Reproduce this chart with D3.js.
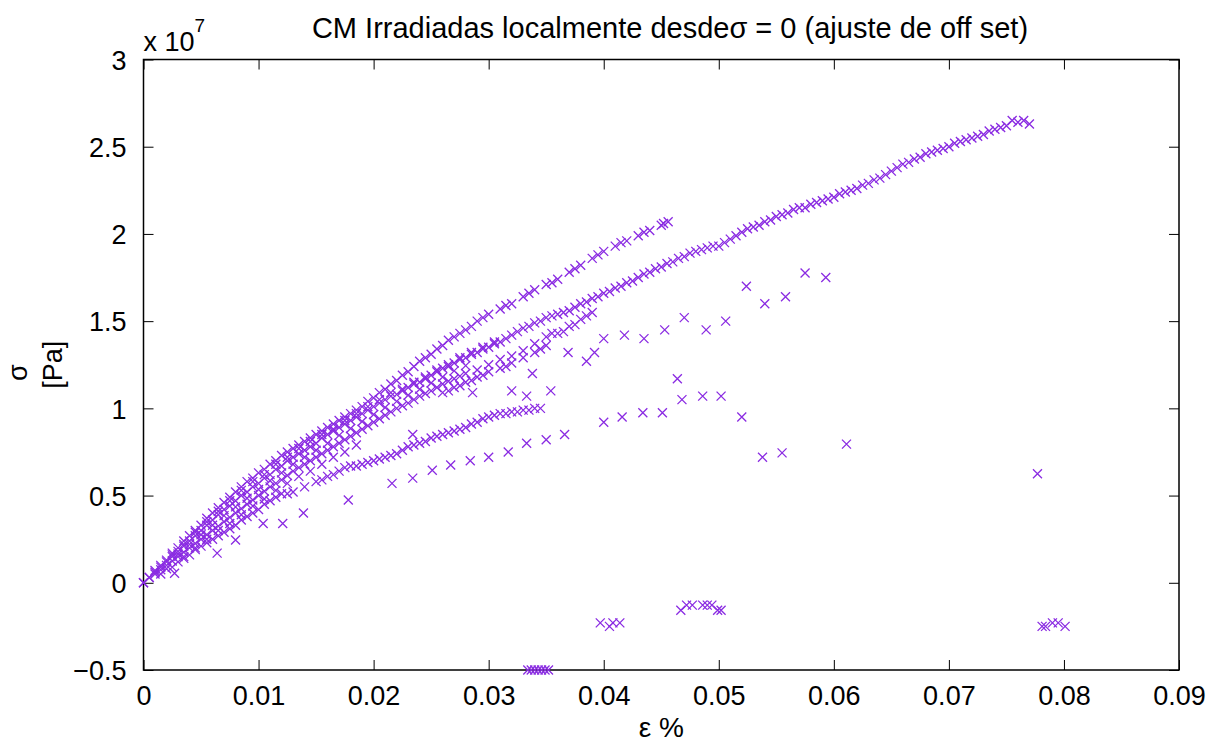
<!DOCTYPE html>
<html>
<head>
<meta charset="utf-8">
<script src="https://cdn.jsdelivr.net/npm/d3@7"></script>
<style>
  html, body { margin: 0; padding: 0; background: #fff; }
  svg { display: block; font-family: "Liberation Sans", Arial, Helvetica, sans-serif; }
</style>
</head>
<body>
<svg id="chart" width="1227" height="742"></svg>
<script>
// Strain ε in %, stress σ in units of 10^7 Pa (the axis multiplier).

// Upper loading branch, ends near ε = 0.0456 %
const branchUpper = [
  [0,0],[0.0005,0.03],[0.001,0.07],[0.0015,0.10],[0.002,0.13],[0.0025,0.17],[0.003,0.20],[0.0035,0.24],
  [0.004,0.27],[0.0045,0.30],[0.005,0.33],[0.0055,0.37],[0.006,0.40],[0.0065,0.43],[0.007,0.46],[0.0075,0.49],
  [0.008,0.52],[0.0085,0.55],[0.009,0.58],[0.0095,0.60],[0.010,0.63],[0.0105,0.65],[0.011,0.68],[0.0115,0.70],
  [0.012,0.73],[0.0125,0.75],[0.013,0.77],[0.0135,0.79],[0.014,0.81],[0.0145,0.83],[0.015,0.85],[0.0155,0.87],
  [0.016,0.89],[0.0165,0.91],[0.017,0.93],[0.0175,0.95],[0.018,0.97],[0.0185,0.99],[0.019,1.01],[0.0195,1.04],
  [0.020,1.06],[0.0205,1.09],[0.021,1.11],[0.0215,1.14],[0.022,1.16],[0.0225,1.19],[0.023,1.21],[0.0235,1.24],
  [0.024,1.27],[0.0245,1.29],[0.025,1.31],[0.0255,1.34],[0.026,1.36],[0.0265,1.39],[0.027,1.41],[0.0275,1.43],
  [0.028,1.45],[0.0285,1.47],[0.029,1.50],[0.0295,1.52],[0.030,1.54],[0.031,1.57],[0.0315,1.59],[0.032,1.60],
  [0.033,1.64],[0.0335,1.66],[0.034,1.68],[0.035,1.71],[0.0355,1.72],[0.036,1.74],[0.037,1.78],[0.0375,1.80],
  [0.038,1.82],[0.039,1.86],[0.0395,1.88],[0.040,1.90],[0.041,1.93],[0.0415,1.95],[0.042,1.96],[0.043,1.99],
  [0.0435,2.01],[0.044,2.02],[0.045,2.05],[0.0452,2.06],[0.0456,2.07]
];

// Main loading branch up to ε ≈ 0.05 %
const branchMain = [
  [0,0],[0.0005,0.03],[0.001,0.06],[0.0015,0.09],[0.002,0.12],[0.0025,0.15],[0.003,0.18],[0.0035,0.21],
  [0.004,0.24],[0.0045,0.27],[0.005,0.30],[0.0055,0.33],[0.006,0.36],[0.0065,0.39],[0.007,0.42],[0.0075,0.44],
  [0.008,0.47],[0.0085,0.50],[0.009,0.52],[0.0095,0.55],[0.010,0.57],[0.0105,0.60],[0.011,0.62],[0.0115,0.65],
  [0.012,0.67],[0.0125,0.70],[0.013,0.72],[0.0135,0.74],[0.014,0.76],[0.0145,0.78],[0.015,0.80],[0.0155,0.83],
  [0.016,0.85],[0.0165,0.87],[0.017,0.89],[0.0175,0.91],[0.018,0.93],[0.0185,0.95],[0.019,0.97],[0.0195,0.99],
  [0.020,1.01],[0.0205,1.03],[0.021,1.05],[0.0215,1.07],[0.022,1.08],[0.0225,1.10],[0.023,1.12],[0.0235,1.14],
  [0.024,1.15],[0.0245,1.17],[0.025,1.19],[0.0255,1.21],[0.026,1.23],[0.0265,1.24],[0.027,1.26],[0.0275,1.28],
  [0.028,1.29],[0.0285,1.31],[0.029,1.32],[0.0295,1.34],[0.030,1.35],[0.0305,1.37],[0.031,1.38],[0.0315,1.40],
  [0.032,1.42],[0.0325,1.44],[0.033,1.46],[0.0335,1.47],[0.034,1.49],[0.0345,1.50],[0.035,1.52],[0.0355,1.53],
  [0.036,1.54],[0.0365,1.55],[0.037,1.56],[0.0375,1.58],[0.038,1.60],[0.0385,1.61],[0.039,1.63],[0.0395,1.64],
  [0.040,1.66],[0.0405,1.67],[0.041,1.69],[0.0415,1.70],[0.042,1.72],[0.0425,1.73],[0.043,1.75],[0.0435,1.77],
  [0.044,1.78],[0.0445,1.80],[0.045,1.81],[0.0455,1.83],[0.046,1.84],[0.0465,1.86],[0.047,1.87],[0.0475,1.89],
  [0.048,1.90],[0.0485,1.91],[0.049,1.92],[0.0495,1.93],[0.050,1.93]
];

// Continued loading up to the maximum stress
const branchLong = [
  [0.0505,1.95],[0.051,1.97],[0.0515,1.99],[0.052,2.01],[0.0525,2.03],[0.053,2.04],[0.0535,2.05],[0.054,2.07],
  [0.0545,2.08],[0.055,2.10],[0.0555,2.11],[0.056,2.12],[0.0565,2.14],[0.057,2.15],[0.0575,2.15],[0.058,2.17],
  [0.0585,2.18],[0.059,2.19],[0.0595,2.20],[0.060,2.21],[0.0605,2.23],[0.061,2.24],[0.0615,2.25],[0.062,2.26],
  [0.0625,2.28],[0.063,2.29],[0.0635,2.31],[0.064,2.32],[0.0645,2.34],[0.065,2.36],[0.0655,2.38],[0.066,2.40],
  [0.0665,2.41],[0.067,2.43],[0.0675,2.44],[0.068,2.46],[0.0685,2.47],[0.069,2.48],[0.0695,2.49],[0.070,2.50],
  [0.0705,2.52],[0.071,2.53],[0.0715,2.54],[0.072,2.55],[0.0725,2.56],[0.073,2.57],[0.0735,2.59],[0.074,2.60],
  [0.0745,2.61],[0.075,2.62],[0.0755,2.65],[0.076,2.64],[0.0765,2.65],[0.077,2.63]
];

// Readings inside the dense band, above the main branch
const branchMidHigh = [
  [0.0025,0.16],[0.0035,0.22],[0.0045,0.29],[0.0055,0.35],[0.0065,0.41],[0.0075,0.47],[0.0085,0.53],
  [0.0095,0.58],[0.0105,0.62],[0.0115,0.68],[0.0125,0.72],[0.0135,0.77],[0.0145,0.81],[0.0155,0.85],
  [0.0165,0.88],[0.0175,0.93],[0.0185,0.97],[0.0195,1.01],[0.0205,1.05],[0.0215,1.09],[0.0225,1.11],
  [0.0235,1.15],[0.0245,1.18],[0.0255,1.22],[0.0265,1.25],[0.0275,1.29],[0.0285,1.32],[0.0295,1.35],
  [0.0305,1.38]
];

// Readings inside the dense band, below the main branch
const branchMidLow = [
  [0.003,0.165],[0.004,0.22],[0.005,0.275],[0.006,0.33],[0.007,0.385],[0.008,0.435],[0.009,0.485],
  [0.010,0.535],[0.011,0.585],[0.012,0.63],[0.013,0.68],[0.014,0.72],[0.015,0.76],[0.016,0.80],
  [0.017,0.845],[0.018,0.885],[0.019,0.925],[0.020,0.965],[0.021,1.005],[0.022,1.04],[0.023,1.075],
  [0.024,1.11],[0.025,1.145],[0.026,1.18],[0.027,1.215],[0.028,1.245]
];

// Lower edge of the main band
const branchLowerEdge = [
  [0.001,0.05],[0.0015,0.075],[0.002,0.10],[0.0025,0.125],[0.003,0.15],[0.0035,0.175],[0.004,0.20],[0.0045,0.225],
  [0.005,0.25],[0.0055,0.275],[0.006,0.30],[0.0065,0.325],[0.007,0.35],[0.0075,0.375],[0.008,0.40],[0.0085,0.425],
  [0.009,0.45],[0.0095,0.475],[0.010,0.50],[0.0105,0.525],[0.011,0.55],[0.0115,0.57],[0.012,0.59],[0.0125,0.615],
  [0.013,0.64],[0.0135,0.66],[0.014,0.68],[0.0145,0.70],[0.015,0.72],[0.0155,0.74],[0.016,0.76],[0.0165,0.78],
  [0.017,0.80],[0.0175,0.82],[0.018,0.84],[0.0185,0.86],[0.019,0.88],[0.0195,0.90],[0.020,0.92],[0.0205,0.94],
  [0.021,0.96],[0.0215,0.98],[0.022,1.00],[0.0225,1.015],[0.023,1.03],[0.0235,1.05],[0.024,1.07],[0.0245,1.085],
  [0.025,1.10],[0.0255,1.12],[0.026,1.14],[0.0265,1.155],[0.027,1.17],[0.0275,1.185],[0.028,1.20],[0.029,1.22],
  [0.030,1.25],[0.031,1.28],[0.032,1.30],[0.033,1.33],[0.034,1.37],[0.035,1.41],[0.0355,1.43],[0.036,1.43],
  [0.0365,1.44],[0.037,1.47],[0.0375,1.48],[0.038,1.51],[0.0385,1.53],[0.039,1.55]
];

// Readings between the lower edge and the lower band
const branchEdgeGap = [
  [0.0025,0.09],[0.0035,0.15],[0.0045,0.20],[0.0055,0.25],[0.0065,0.30],[0.0075,0.34],[0.0085,0.39],
  [0.0095,0.44],[0.0105,0.48],[0.0115,0.53],[0.0125,0.57],[0.0135,0.61],[0.0145,0.64],[0.0155,0.68],
  [0.0165,0.72],[0.0175,0.75],[0.0185,0.79]
];

// Sub-curve just below the main band
const branchSub = [
  [0.026,1.09],[0.0265,1.10],[0.027,1.12],[0.0275,1.13],[0.028,1.15],[0.0285,1.16],[0.029,1.18],[0.0295,1.19],
  [0.030,1.21],[0.031,1.23],[0.0315,1.24],[0.032,1.26],[0.033,1.29],[0.034,1.32],[0.0345,1.34],[0.035,1.36]
];

// Lowest early curve that turns into the lower band (σ ≈ 0.5–1.0)
const branchLowBand = [
  [0.0015,0.05],[0.002,0.08],[0.003,0.12],[0.0035,0.14],[0.004,0.16],[0.0045,0.19],[0.005,0.21],[0.0055,0.23],
  [0.006,0.25],[0.0065,0.27],[0.007,0.29],[0.0075,0.31],[0.008,0.33],[0.0085,0.36],[0.009,0.38],[0.0095,0.40],
  [0.010,0.42],[0.0105,0.45],[0.011,0.47],[0.0115,0.49],[0.012,0.51],[0.0125,0.51],[0.013,0.52],[0.014,0.55],
  [0.015,0.58],[0.0155,0.59],[0.016,0.61],[0.0165,0.62],[0.017,0.64],[0.0175,0.66],[0.018,0.67],[0.0185,0.67],
  [0.019,0.68],[0.0195,0.69],[0.020,0.70],[0.0205,0.71],[0.021,0.72],[0.0215,0.73],[0.022,0.74],[0.0225,0.76],
  [0.023,0.78],[0.0235,0.79],[0.024,0.80],[0.0245,0.81],[0.025,0.83],[0.0255,0.84],[0.026,0.85],[0.0265,0.86],
  [0.027,0.87],[0.0275,0.88],[0.028,0.89],[0.0285,0.91],[0.029,0.92],[0.0295,0.94],[0.030,0.95],[0.0305,0.96],
  [0.031,0.97],[0.0315,0.97],[0.032,0.98],[0.0325,0.98],[0.033,0.99],[0.0335,0.99],[0.034,1.00],[0.0345,1.00]
];

// Isolated readings below the band
const scatterLow = [
  [0.0027,0.055],[0.0064,0.17],[0.008,0.245],[0.0104,0.34],[0.0121,0.34],[0.0139,0.40],[0.0178,0.475],
  [0.0216,0.57],[0.0234,0.60],[0.0251,0.645],[0.0234,0.85],
  [0.0267,0.675],[0.0284,0.70],[0.030,0.72],[0.0317,0.75],[0.0333,0.80],[0.035,0.82],[0.0366,0.85],
  [0.040,0.92],[0.0416,0.95],[0.0434,0.975],[0.0451,0.975],[0.0468,1.05],[0.0486,1.07],[0.0502,1.07],
  [0.0464,1.17],[0.052,0.95],[0.0538,0.72],[0.0555,0.745],[0.0611,0.795],[0.0777,0.625]
];

// Isolated readings between the lower band and the main band
const scatterHigh = [
  [0.0286,1.09],[0.032,1.10],[0.0333,1.07],[0.0354,1.10],[0.0338,1.20],[0.0369,1.32],[0.0385,1.27],
  [0.0392,1.32],[0.040,1.40],[0.0418,1.42],[0.0435,1.40],[0.0453,1.45],[0.047,1.52],[0.0489,1.45],
  [0.0506,1.50],[0.0524,1.70],[0.054,1.60],[0.0558,1.64],[0.0575,1.776],[0.0593,1.75]
];

// Negative-stress clusters
const clustersNegative = [
  [0.0334,-0.5],[0.0337,-0.5],[0.034,-0.5],[0.0343,-0.5],[0.0346,-0.5],[0.0349,-0.5],[0.0352,-0.5],
  [0.0397,-0.23],[0.0405,-0.25],[0.0408,-0.23],[0.0414,-0.23],
  [0.0467,-0.157],[0.0472,-0.128],[0.0477,-0.128],[0.0486,-0.128],[0.049,-0.128],[0.0494,-0.128],
  [0.0499,-0.157],[0.0502,-0.157],
  [0.0781,-0.25],[0.0784,-0.25],[0.079,-0.23],[0.0795,-0.23],[0.0801,-0.25]
];

const xTicks = [0, 0.01, 0.02, 0.03, 0.04, 0.05, 0.06, 0.07, 0.08, 0.09];
const yTicks = [-0.5, 0, 0.5, 1, 1.5, 2, 2.5, 3];
const xTickLabels = ["0", "0.01", "0.02", "0.03", "0.04", "0.05", "0.06", "0.07", "0.08", "0.09"];
const yTickLabels = ["\u22120.5", "0", "0.5", "1", "1.5", "2", "2.5", "3"];

const titleText = "CM Irradiadas localmente desde\u03c3 = 0 (ajuste de off set)";
const xLabelText = "\u03b5 %";
const yLabelLines = ["\u03c3", "[Pa]"];

const allPoints = [].concat(branchUpper, branchMain, branchLong, branchMidHigh, branchMidLow,
  branchLowerEdge, branchEdgeGap, branchSub, branchLowBand, scatterLow, scatterHigh, clustersNegative);

// Plot frame in pixels
const frame = { left: 143.5, top: 59.5, right: 1179, bottom: 670 };
const markerColor = "#8a2be2";
const tickFont = 27;

const svg = d3.select("#chart");

const x = d3.scaleLinear().domain([0, 0.09]).range([frame.left, frame.right]);
const y = d3.scaleLinear().domain([-0.5, 3]).range([frame.bottom, frame.top]);

// Axes with inward ticks on all four sides
const tickLen = 10;
const gx = svg.append("g").attr("transform", `translate(0,${frame.bottom})`)
  .call(d3.axisBottom(x).tickValues(xTicks).tickSizeInner(-tickLen).tickSizeOuter(0)
    .tickFormat((d, i) => xTickLabels[i]).tickPadding(16));
const gxTop = svg.append("g").attr("transform", `translate(0,${frame.top})`)
  .call(d3.axisTop(x).tickValues(xTicks).tickSizeInner(-tickLen).tickSizeOuter(0).tickFormat(""));
const gy = svg.append("g").attr("transform", `translate(${frame.left},0)`)
  .call(d3.axisLeft(y).tickValues(yTicks).tickSizeInner(-tickLen).tickSizeOuter(0)
    .tickFormat((d, i) => yTickLabels[i]).tickPadding(17));
const gyRight = svg.append("g").attr("transform", `translate(${frame.right},0)`)
  .call(d3.axisRight(y).tickValues(yTicks).tickSizeInner(-tickLen).tickSizeOuter(0).tickFormat(""));

[gx, gxTop, gy, gyRight].forEach(g => {
  g.select(".domain").remove();
  g.selectAll(".tick line").attr("stroke", "#000").attr("stroke-width", 1);
  g.selectAll(".tick text").attr("fill", "#000").style("font-size", tickFont + "px")
    .style("font-family", "'Liberation Sans', Arial, sans-serif");
});
gx.selectAll(".tick text").attr("dy", "0.71em");
gy.selectAll(".tick text").attr("dy", "0.36em");

svg.append("rect")
  .attr("x", frame.left).attr("y", frame.top)
  .attr("width", frame.right - frame.left).attr("height", frame.bottom - frame.top)
  .attr("fill", "none").attr("stroke", "#000").attr("stroke-width", 1.5);

// Exponent label
const expo = svg.append("text").attr("x", frame.left).attr("y", 51)
  .style("font-size", "27px").attr("fill", "#000");
expo.append("tspan").text("x 10");
expo.append("tspan").attr("dy", -19).style("font-size", "19px").text("7");

// Title
svg.append("text").attr("x", 670).attr("y", 38).attr("text-anchor", "middle")
  .style("font-size", "29px").attr("fill", "#000").text(titleText);

// x label
svg.append("text").attr("x", (frame.left + frame.right) / 2).attr("y", 737).attr("text-anchor", "middle")
  .style("font-size", "28px").attr("fill", "#000").text(xLabelText);

// y label, two rotated lines
const yl = svg.append("text")
  .attr("transform", `translate(27,${(frame.top + frame.bottom) / 2}) rotate(-90)`)
  .attr("text-anchor", "middle").style("font-size", "27px").attr("fill", "#000");
yl.append("tspan").attr("x", -8).attr("y", 0).text(yLabelLines[0]);
yl.append("tspan").attr("x", 0).attr("y", 35).text(yLabelLines[1]);

// Cross markers
const s = 4.5;
svg.append("g").selectAll("path").data(allPoints).join("path")
  .attr("transform", d => `translate(${x(d[0])},${y(d[1])})`)
  .attr("d", `M${-s},${-s}L${s},${s}M${-s},${s}L${s},${-s}`)
  .attr("stroke", markerColor).attr("stroke-width", 1.3).attr("fill", "none");
</script>
</body>
</html>
